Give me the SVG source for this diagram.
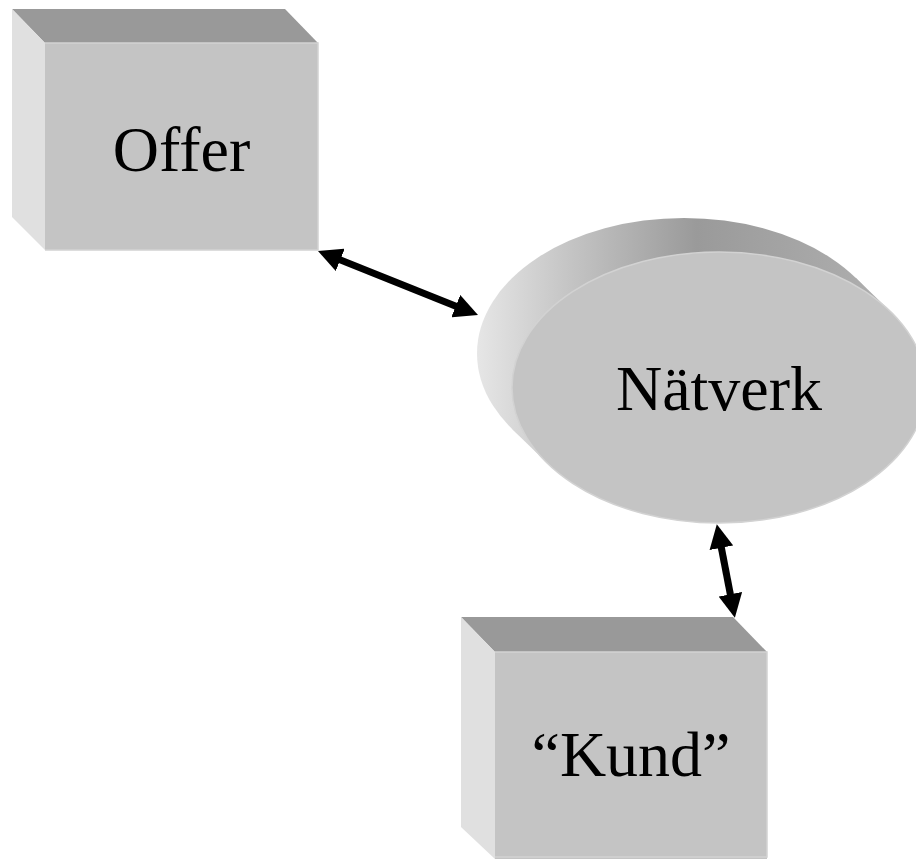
<svg xmlns="http://www.w3.org/2000/svg" width="916" height="859" viewBox="0 0 916 859">
  <style>
    .front { fill: #c4c4c4; }
    .top { fill: #999999; }
    .side { fill: #e0e0e0; }
    .rim { fill: none; stroke: #d2d2d2; stroke-width: 1.5; }
    .label { font-family: "Liberation Serif", "Times New Roman", serif; font-size: 64px; fill: #000000; text-anchor: middle; }
    .conn { fill: none; stroke: #000000; stroke-width: 7; }
  </style>
  <defs>
    <marker id="head" viewBox="0 0 24 24" markerWidth="24" markerHeight="24" refX="13" refY="12" orient="auto-start-reverse" markerUnits="userSpaceOnUse">
      <path d="M0,0 L24,12 L0,24 z" fill="#000000"/>
    </marker>
    <linearGradient id="drum" gradientUnits="userSpaceOnUse" x1="477" y1="0" x2="916" y2="0">
      <stop offset="0" stop-color="#e6e6e6"/>
      <stop offset="0.2" stop-color="#c6c6c6"/>
      <stop offset="0.5" stop-color="#9a9a9a"/>
      <stop offset="1" stop-color="#b2b2b2"/>
    </linearGradient>
  </defs>

  <rect width="916" height="859" fill="#ffffff"/>

  <!-- Offer: extruded box -->
  <g id="offer">
    <polygon class="top" points="12,9 285,9 318,43 45,43"/>
    <polygon class="side" points="12,9 45,43 45,250 12,217"/>
    <rect class="front" x="45" y="43" width="273" height="207"/>
    <polyline class="rim" points="45,43 318,43 318,250 45,250"/>
    <text class="label" x="181.5" y="171">Offer</text>
  </g>

  <!-- Nätverk: extruded ellipse -->
  <g id="natverk">
    <ellipse cx="684" cy="353.5" rx="207" ry="135.5" fill="url(#drum)"/>
    <polygon points="890.7,311.8 855.7,277.8 512.3,429.2 547.3,463.2" fill="url(#drum)"/>
    <ellipse class="front" cx="719" cy="387.5" rx="207" ry="135.5"/>
    <ellipse class="rim" cx="719" cy="387.5" rx="207" ry="135.5"/>
    <text class="label" x="719" y="410">Nätverk</text>
  </g>

  <!-- Kund: extruded box -->
  <g id="kund">
    <polygon class="top" points="461,617 733,617 767,652 495,652"/>
    <polygon class="side" points="461,617 495,652 495,859 461,827"/>
    <rect class="front" x="495" y="652" width="272" height="207"/>
    <polyline class="rim" points="495,652 767,652 767,857 495,857"/>
    <text class="label" x="631" y="776">“Kund”</text>
  </g>

  <!-- two-way connectors -->
  <g id="connectors">
    <line class="conn" x1="328.2" y1="255.1" x2="467.8" y2="310.9" marker-start="url(#head)" marker-end="url(#head)"/>
    <line class="conn" x1="718.9" y1="535" x2="732.8" y2="607" marker-start="url(#head)" marker-end="url(#head)"/>
  </g>
</svg>
